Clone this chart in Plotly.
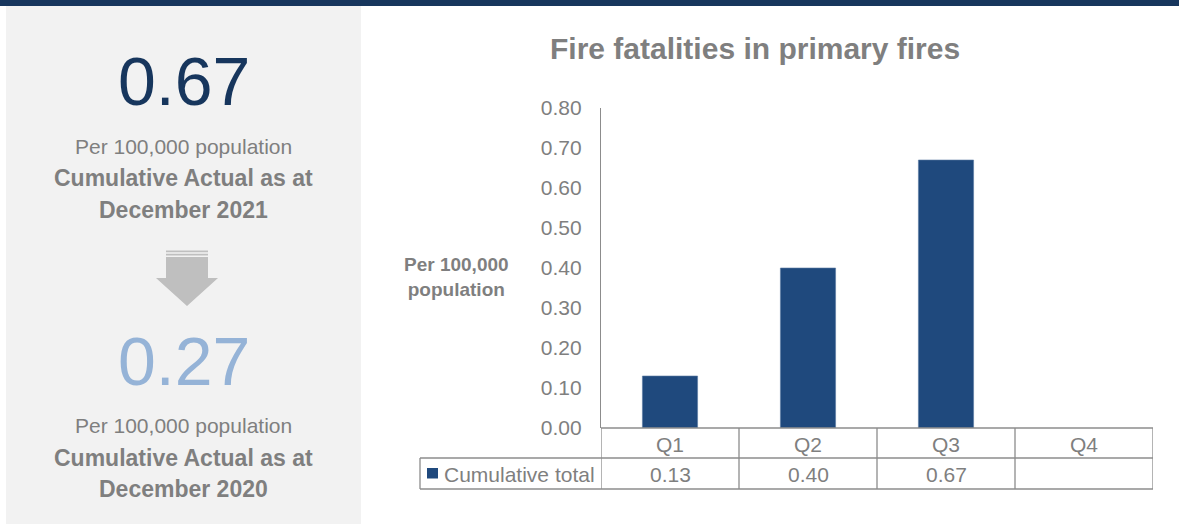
import plotly.graph_objects as go

# ---- data ----
quarters = ["Q1", "Q2", "Q3", "Q4"]
cumulative_total = [0.13, 0.40, 0.67, None]
series_name = "Cumulative total"
y_ticks = [0.0, 0.1, 0.2, 0.3, 0.4, 0.5, 0.6, 0.7, 0.8]
current_value = "0.67"
previous_value = "0.27"
current_label = ["Per 100,000 population", "Cumulative Actual as at", "December 2021"]
previous_label = ["Per 100,000 population", "Cumulative Actual as at", "December 2020"]
title_text = "Fire fatalities in primary fires"
y_title = "Per 100,000<br>population"

# ---- layout geometry (pixels) ----
W, H = 1179, 525
L, R, T, B = 601, 1153, 108, 428  # plot area edges in pixels

def px(x):
    return (x - L) / (R - L)

def py(y):
    return (B - y) / (B - T)

NAVY = "#17365D"
BAR = "#1F497D"
LIGHT = "#95B3D7"
GRAY = "#7F7F7F"
LINE = "#8C8C8C"
PANEL = "#F2F2F2"
FONT = "Liberation Sans, Arial, sans-serif"

fig = go.Figure()
fig.add_trace(go.Bar(
    x=quarters, y=cumulative_total, name=series_name,
    marker=dict(color=BAR, line=dict(color="#5A7BA3", width=0.6)),
    showlegend=False, hoverinfo="x+y",
))

shapes = []
annotations = []

# top navy band
shapes.append(dict(type="rect", xref="paper", yref="paper", layer="below",
                   x0=px(0), x1=px(W), y0=py(0), y1=py(6),
                   fillcolor=NAVY, line=dict(width=0)))
# left grey panel
shapes.append(dict(type="rect", xref="paper", yref="paper", layer="below",
                   x0=px(6), x1=px(361), y0=py(6), y1=py(524),
                   fillcolor=PANEL, line=dict(width=0)))

# arrow
ARROW = "#BFBFBF"
for (y0, y1) in [(250.5, 252.2), (253.8, 255.5)]:
    shapes.append(dict(type="rect", xref="paper", yref="paper",
                       x0=px(166), x1=px(208), y0=py(y0), y1=py(y1),
                       fillcolor=ARROW, line=dict(width=0)))
path = (f"M {px(166)},{py(257)} L {px(208)},{py(257)} L {px(208)},{py(278)} "
        f"L {px(218)},{py(278)} L {px(187)},{py(306)} L {px(156)},{py(278)} "
        f"L {px(166)},{py(278)} Z")
shapes.append(dict(type="path", xref="paper", yref="paper", path=path,
                   fillcolor=ARROW, line=dict(width=0)))

# data table
row1_top, row1_bot, row2_bot = py(428), py(458), py(489)
for i in range(len(quarters) + 1):
    xv = i - 0.5
    shapes.append(dict(type="line", xref="x", yref="paper",
                       x0=xv, x1=xv, y0=row1_top, y1=row2_bot,
                       line=dict(color=LINE, width=1.3)))
shapes.append(dict(type="line", xref="x", yref="paper",
                   x0=-0.5, x1=len(quarters) - 0.5, y0=row1_top, y1=row1_top,
                   line=dict(color=LINE, width=1.3)))
for yv in (row1_bot, row2_bot):
    shapes.append(dict(type="line", xref="paper", yref="paper",
                       x0=px(420), x1=1, y0=yv, y1=yv,
                       line=dict(color=LINE, width=1.3)))
shapes.append(dict(type="line", xref="paper", yref="paper",
                   x0=px(420), x1=px(420), y0=row1_bot, y1=row2_bot,
                   line=dict(color=LINE, width=1.3)))
# legend key
shapes.append(dict(type="rect", xref="paper", yref="paper",
                   x0=px(427), x1=px(438), y0=py(468), y1=py(478.5),
                   fillcolor=BAR, line=dict(width=0)))

for i, q in enumerate(quarters):
    annotations.append(dict(x=q, xref="x", y=py(444), yref="paper",
                            text=q, showarrow=False, xanchor="center", yanchor="middle",
                            font=dict(family=FONT, size=21, color=GRAY)))
    v = cumulative_total[i]
    if v is not None:
        annotations.append(dict(x=q, xref="x", y=py(474), yref="paper",
                                text=f"{v:.2f}", showarrow=False,
                                xanchor="center", yanchor="middle",
                                font=dict(family=FONT, size=21, color=GRAY)))
annotations.append(dict(x=px(442), xref="paper", y=py(474), yref="paper",
                        text=series_name, showarrow=False, xanchor="left", yanchor="middle",
                        font=dict(family=FONT, size=21, color=GRAY)))

# title
annotations.append(dict(x=px(755), y=py(48), xref="paper", yref="paper",
                        text=f"<b>{title_text}</b>", showarrow=False,
                        xanchor="center", yanchor="middle",
                        font=dict(family=FONT, size=30, color=GRAY)))
# y axis title
annotations.append(dict(x=px(456), y=py(277), xref="paper", yref="paper",
                        text=f"<b>{y_title}</b>", showarrow=False,
                        xanchor="center", yanchor="middle",
                        font=dict(family=FONT, size=19, color=GRAY)))

# left panel texts
CX = px(183.5)
def panel_text(txt, ycen, size, color, bold=False):
    annotations.append(dict(x=CX, y=py(ycen), xref="paper", yref="paper",
                            text=f"<b>{txt}</b>" if bold else txt, showarrow=False,
                            xanchor="center", yanchor="middle",
                            font=dict(family=FONT, size=size, color=color)))

panel_text(current_value, 81, 68, NAVY)
panel_text(current_label[0], 146, 21, GRAY)
panel_text(current_label[1], 178, 23, GRAY, bold=True)
panel_text(current_label[2], 210, 23, GRAY, bold=True)
panel_text(previous_value, 361, 68, LIGHT)
panel_text(previous_label[0], 425, 21, GRAY)
panel_text(previous_label[1], 458, 23, GRAY, bold=True)
panel_text(previous_label[2], 489, 23, GRAY, bold=True)

fig.update_layout(
    width=W, height=H,
    margin=dict(l=L, r=W - R, t=T, b=H - B, pad=0),
    paper_bgcolor="white", plot_bgcolor="white",
    bargap=0.6,
    shapes=shapes, annotations=annotations,
    font=dict(family=FONT, color=GRAY),
    xaxis=dict(type="category", categoryorder="array", categoryarray=quarters,
               range=[-0.5, len(quarters) - 0.5], showticklabels=False,
               showgrid=False, zeroline=False, showline=False, ticks=""),
    yaxis=dict(range=[0, 0.8], tickvals=y_ticks, tickformat=".2f",
               showgrid=False, zeroline=False, showline=True,
               linecolor=LINE, linewidth=1.3, ticks="",
               ticklabelstandoff=14,
               tickfont=dict(family=FONT, size=21, color=GRAY)),
)

fig.write_html("out.html")
